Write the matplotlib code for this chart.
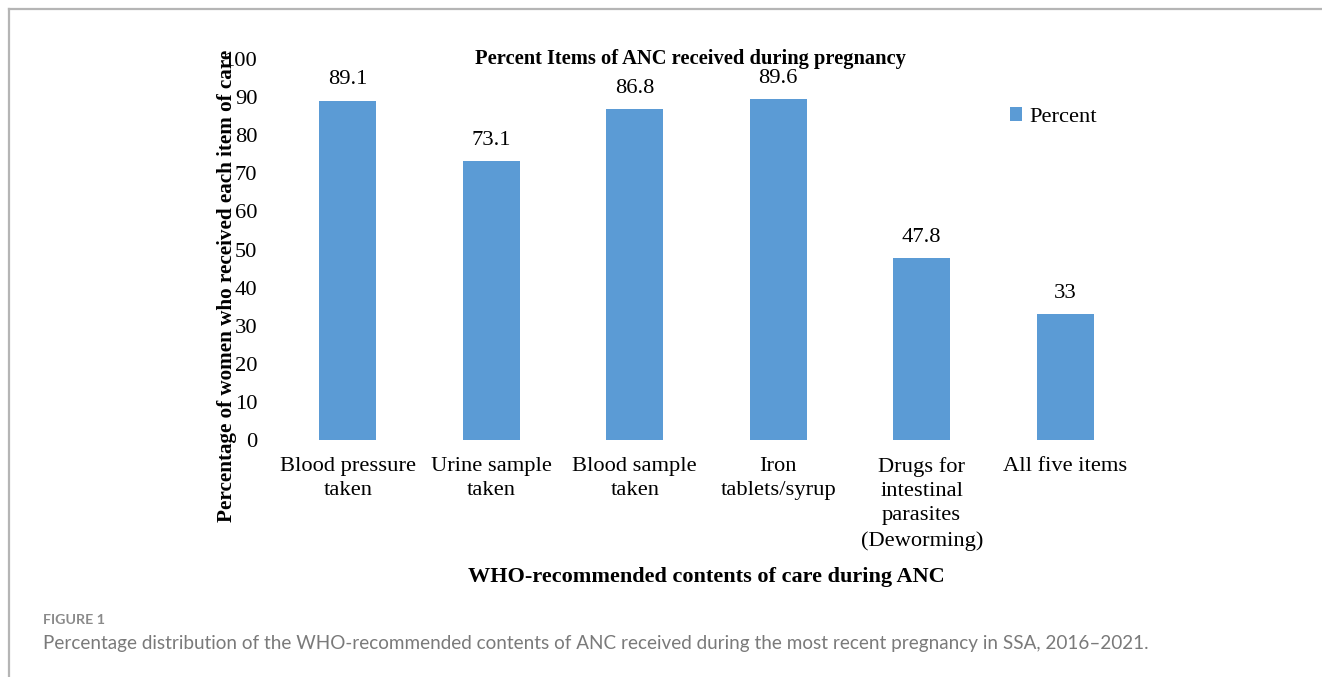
import matplotlib
matplotlib.use("Agg")
import matplotlib.pyplot as plt
from matplotlib.lines import Line2D

categories = ["Blood pressure\ntaken", "Urine sample\ntaken", "Blood sample\ntaken",
              "Iron\ntablets/syrup", "Drugs for\nintestinal\nparasites\n(Deworming)",
              "All five items"]
percent = [89.1, 73.1, 86.8, 89.6, 47.8, 33]
value_labels = ["89.1", "73.1", "86.8", "89.6", "47.8", "33"]
yticks = [0, 10, 20, 30, 40, 50, 60, 70, 80, 90, 100]

W, H = 1322, 677
fig = plt.figure(figsize=(W / 100, H / 100), dpi=100)
fig.patch.set_facecolor("white")

serif = "Liberation Serif"
bar_color = "#5B9BD5"
fs = 16.2

ax = fig.add_axes([276 / W, 1 - 440 / H, (1137 - 276) / W, (440 - 59) / H])
x = list(range(len(categories)))
bars = ax.bar(x, percent, width=0.4, color=bar_color, label="Percent")

for xi, v, lab in zip(x, percent, value_labels):
    ax.annotate(lab, (xi, v), xytext=(0, 8), textcoords="offset points",
                ha="center", va="bottom", fontsize=fs, family=serif)

ax.set_xlim(-0.5, len(categories) - 0.5)
ax.set_ylim(0, 100)
ax.set_yticks(yticks)
ax.set_yticklabels([str(t) for t in yticks], family=serif, fontsize=fs)
ax.set_xticks(x)
ax.set_xticklabels(categories, family=serif, fontsize=fs, linespacing=1.38)
ax.tick_params(axis="both", length=0)
ax.tick_params(axis="y", pad=13.5)
ax.tick_params(axis="x", pad=12)
for s in ax.spines.values():
    s.set_visible(False)

fig.text(690 / W, 1 - 59 / H, "Percent Items of ANC received during pregnancy",
         family=serif, fontsize=14.8, fontweight="bold", ha="center", va="center")
fig.text(706 / W, 1 - 577 / H, "WHO-recommended contents of care during ANC",
         family=serif, fontsize=16, fontweight="bold", ha="center", va="center")
fig.text(227 / W, 1 - 286 / H, "Percentage of women who received each item of care",
         rotation=90, ha="center", va="center", family=serif, fontsize=15.2,
         fontweight="bold")

fig.legend(handles=[bars], labels=["Percent"], loc="center left",
           bbox_to_anchor=(1010 / W, 1 - 117 / H), frameon=False,
           prop={"family": serif, "size": fs}, handlelength=0.55,
           handleheight=0.55, handletextpad=0.3, borderpad=0, borderaxespad=0)

# panel border, top and left edges only
frame_col = "#b5b5b5"
fig.add_artist(Line2D([9 / W, 9 / W], [0, 1 - 9 / H], color=frame_col, lw=1.6,
                      transform=fig.transFigure))
fig.add_artist(Line2D([9 / W, 1], [1 - 9 / H, 1 - 9 / H], color=frame_col, lw=1.6,
                      transform=fig.transFigure))

fig.text(43 / W, 1 - 620 / H, "FIGURE 1", family="Lato", fontweight="bold",
         fontsize=10.3, color="#8a8a8a", va="center", ha="left")
fig.text(43 / W, 1 - 643 / H,
         "Percentage distribution of the WHO-recommended contents of ANC received "
         "during the most recent pregnancy in SSA, 2016\u20132021.",
         family="Lato", fontsize=13.6, color="#7a7a7a", va="center", ha="left")

fig.savefig("out.png", dpi=100)
